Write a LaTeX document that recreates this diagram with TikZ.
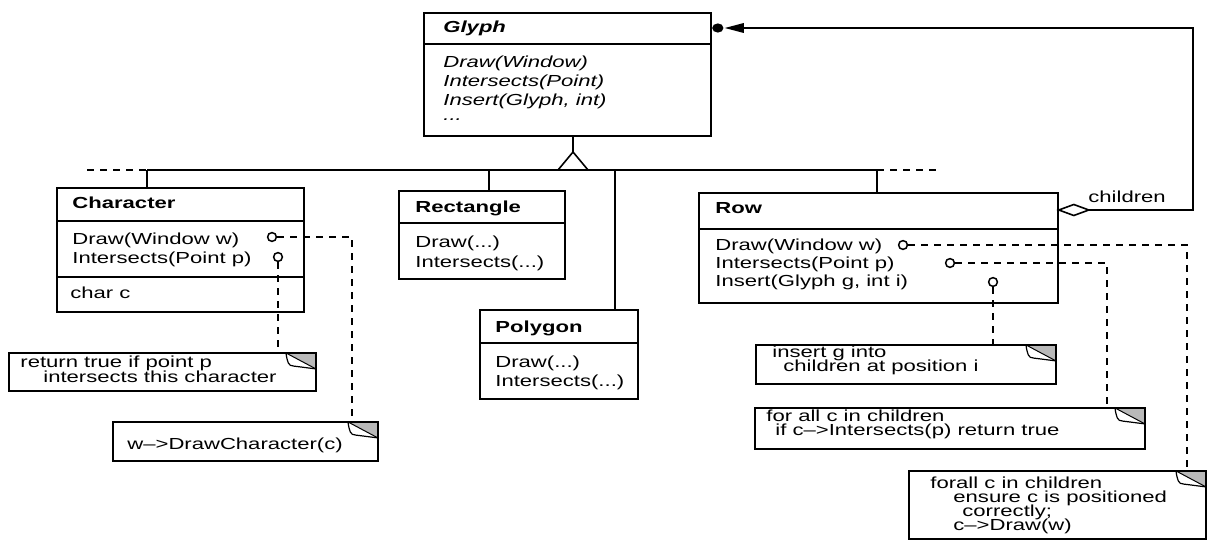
\documentclass[tikz,border=0pt]{standalone}
\usepackage{fontspec}
\newfontfamily\umlfont[FakeStretch=1.38]{Liberation Sans}
\usetikzlibrary{calc}
\tikzset{
  box/.style={draw, line width=0.9pt, inner sep=0pt, anchor=north west},
  divider/.style={line width=0.8pt},
  conn/.style={line width=0.8pt},
  link/.style={line width=0.8pt, dash pattern=on 3.5pt off 3pt},
  txt/.style={inner sep=0pt, anchor=base west, font=\fontsize{8}{9}\selectfont\umlfont},
  ttl/.style={txt, font=\fontsize{8}{9}\selectfont\umlfont\bfseries},
  lolli/.style={circle, draw, line width=0.75pt, inner sep=0pt, minimum size=4.4pt, fill=white},
  notebox/.style={draw, line width=0.9pt, inner sep=0pt, anchor=north west,
    path picture={
      \fill[gray!55] ([xshift=-15pt]path picture bounding box.north east)
        -- (path picture bounding box.north east)
        -- ([yshift=-8pt]path picture bounding box.north east) -- cycle;
      \fill[white] ([xshift=-15pt]path picture bounding box.north east)
        .. controls +(0.8pt,-4.5pt) and +(-3pt,0pt) .. ([xshift=-11pt,yshift=-6.6pt]path picture bounding box.north east)
        -- ([yshift=-8pt]path picture bounding box.north east) -- cycle;
      \draw[line width=0.6pt] ([xshift=-15pt]path picture bounding box.north east)
        .. controls +(0.8pt,-4.5pt) and +(-3pt,0pt) .. ([xshift=-11pt,yshift=-6.6pt]path picture bounding box.north east)
        -- ([yshift=-8pt]path picture bounding box.north east);
      \draw[line width=0.5pt] ([xshift=-15pt]path picture bounding box.north east)
        -- ([yshift=-8pt]path picture bounding box.north east);
    }},
}
\begin{document}
\begin{tikzpicture}[x=0.5pt, y=-0.5pt]
\useasboundingbox[fill=white] (0,0) rectangle (1209,540);

% ---------- class boxes ----------
\node[box, minimum width=143.5pt, minimum height=61.5pt] (glyph) at (423,12) {};
\draw[divider] ($(glyph.north west)+(0,32)$) -- ($(glyph.north east)+(0,32)$);
\node[ttl, font=\fontsize{8}{9}\selectfont\umlfont\bfseries\itshape] (gt) at (443,33) {Glyph};
\node[txt, font=\fontsize{8}{9}\selectfont\umlfont\itshape] (gm1) at (443,68) {Draw(Window)};
\node[txt, font=\fontsize{8}{9}\selectfont\umlfont\itshape] (gm2) at (443,87) {Intersects(Point)};
\node[txt, font=\fontsize{8}{9}\selectfont\umlfont\itshape] (gm3) at (443,105) {Insert(Glyph, int)};
\node[txt, font=\fontsize{8}{9}\selectfont\umlfont\itshape] (gm4) at (443,120) {...};

\node[box, minimum width=123.5pt, minimum height=62pt] (character) at (56,187) {};
\draw[divider] ($(character.north west)+(0,34)$) -- ($(character.north east)+(0,34)$);
\draw[divider] ($(character.north west)+(0,90)$) -- ($(character.north east)+(0,90)$);
\node[ttl] (ct) at (72,208) {Character};
\node[txt] (cm1) at (72,244) {Draw(Window w)};
\node[txt] (cm2) at (72,263) {Intersects(Point p)};
\node[txt] (ca1) at (70,298) {char c};

\node[box, minimum width=83pt, minimum height=44pt] (rectangle) at (398,190) {};
\draw[divider] ($(rectangle.north west)+(0,33)$) -- ($(rectangle.north east)+(0,33)$);
\node[ttl] (rt) at (415,212) {Rectangle};
\node[txt] (rm1) at (415,247) {Draw(...)};
\node[txt] (rm2) at (415,267) {Intersects(...)};

\node[box, minimum width=79pt, minimum height=44.5pt] (polygon) at (479,309) {};
\draw[divider] ($(polygon.north west)+(0,34)$) -- ($(polygon.north east)+(0,34)$);
\node[ttl] (pt) at (495,332) {Polygon};
\node[txt] (pm1) at (495,367) {Draw(...)};
\node[txt] (pm2) at (495,386) {Intersects(...)};

\node[box, minimum width=179.5pt, minimum height=55pt] (row) at (698,192) {};
\draw[divider] ($(row.north west)+(0,37)$) -- ($(row.north east)+(0,37)$);
\node[ttl] (wt) at (715,213) {Row};
\node[txt] (wm1) at (715,250) {Draw(Window w)};
\node[txt] (wm2) at (715,268) {Intersects(Point p)};
\node[txt] (wm3) at (715,286) {Insert(Glyph g, int i)};

% ---------- notes ----------
\node[notebox, minimum width=153.5pt, minimum height=19pt] (note1) at (8,352) {};
\node[txt] (n1a) at (20,367) {return true if point p};
\node[txt] (n1b) at (43,382) {intersects this character};

\node[notebox, minimum width=132.5pt, minimum height=19.5pt] (note2) at (112,421) {};
\node[txt] (n2a) at (127,449) {w–>DrawCharacter(c)};

\node[notebox, minimum width=150pt, minimum height=19.5pt] (note3) at (755,344) {};
\node[txt] (n3a) at (772,357) {insert g into};
\node[txt] (n3b) at (783,371) {children at position i};

\node[notebox, minimum width=195pt, minimum height=20.5pt] (note4) at (754,407) {};
\node[txt] (n4a) at (766,421) {for all c in children};
\node[txt] (n4b) at (775,435) {if c–>Intersects(p) return true};

\node[notebox, minimum width=148.5pt, minimum height=34pt] (note5) at (908,470) {};
\node[txt] (n5a) at (930,488) {forall c in children};
\node[txt] (n5b) at (953,502) {ensure c is positioned};
\node[txt] (n5c) at (962,516) {correctly;};
\node[txt] (n5d) at (953,530) {c–>Draw(w)};

% ---------- inheritance ----------
\coordinate (apex) at (573,152);
\coordinate (busL) at (147,170);
\coordinate (busR) at (877,170);
\coordinate (busRect) at (489,170);
\coordinate (busPoly) at (615,170);
\draw[conn] (apex |- glyph.south) -- (apex);
\draw[conn, fill=white] (apex) -- ++(-15,18) -- ++(30,0) -- cycle;
\draw[conn] (busL) -- (busR);
\draw[link] ($(busL)+(-60,0)$) -- (busL);
\draw[link] (busR) -- ($(busR)+(60,0)$);
\draw[conn] (busL) -- (busL |- character.north);
\draw[conn] (busRect) -- (busRect |- rectangle.north);
\draw[conn] (busPoly) -- (busPoly |- polygon.north);
\draw[conn] (busR) -- (busR |- row.north);

% ---------- aggregation children ----------
\coordinate (dA) at ($(row.north east)+(0,18)$);
\coordinate (dB) at ($(dA)+(30,0)$);
\coordinate (gA) at ($(glyph.north east)+(0,16)$);
\coordinate (turn) at (1193,0);
\draw[conn, fill=white] (dA) -- ++(15,-5.5) -- (dB) -- ++(-15,5.5) -- cycle;
\draw[conn] (dB) -- (dB -| turn) -- (turn |- gA) -- ($(gA)+(32,0)$);
\fill ($(gA)+(13,0)$) -- ($(gA)+(32,-5)$) -- ($(gA)+(32,5)$) -- cycle;
\fill ($(gA)+(6,0)$) ellipse (2.8pt and 2.3pt);
\node[txt] (lchildren) at (1088,202) {children};

% ---------- lollipops and note links ----------
\node[lolli] (cdraw) at (272,237) {};
\node[lolli] (cint) at (278,257) {};
\node[lolli] (wdraw) at (903,245) {};
\node[lolli] (wint) at (950,263) {};
\node[lolli] (wins) at (993,282) {};

\draw[link] (cint.south) -- (cint.south |- note1.north);
\draw[link] (cdraw.east) -| ($(note2.north east)+(-27,0)$);
\draw[link] (wins.south) -- (wins.south |- note3.north);
\draw[link] (wint.east) -| ($(note4.north east)+(-39,0)$);
\draw[link] (wdraw.east) -| ($(note5.north east)+(-20,0)$);
\end{tikzpicture}
\end{document}
